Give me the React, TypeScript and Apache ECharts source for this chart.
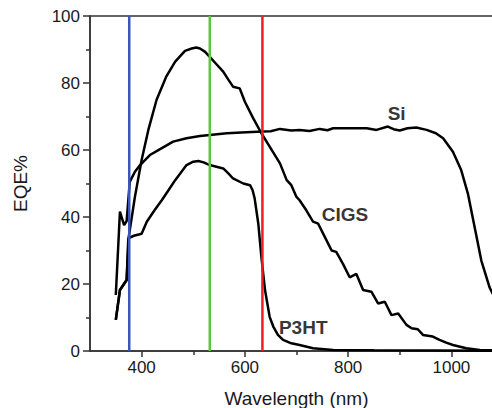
import React, { useEffect, useRef } from "react";
import * as echarts from "echarts";

const xTickValues = [400, 600, 800, 1000];
const xMinorTickValues = [500, 700, 900];
const yTickInterval = 20;

const siData: [number, number][] = [
  [350, 16.7], [358, 41.6], [366, 37.6], [371, 38.8], [377, 50.5], [387, 53.5], [397, 55.5],
  [416, 58.5], [435, 60.2], [461, 62.5], [487, 63.5], [513, 64.2], [532, 64.5], [565, 65],
  [603, 65.3], [634, 65.5], [650, 65.6], [668, 66.3], [690, 65.8], [706, 66], [725, 65.7],
  [745, 66.3], [760, 65.9], [771, 66.5], [803, 66.5], [836, 66.5], [855, 66], [877, 67],
  [888, 66.2], [900, 65.8], [915, 66.5], [932, 66.7], [952, 66], [970, 65], [984, 63.5],
  [1003, 59.5], [1019, 54], [1032, 47], [1045, 37], [1058, 27], [1074, 19], [1090, 14], [1100, 11],
];

const cigsData: [number, number][] = [
  [350, 9.3], [358, 18.2], [371, 21.2], [374, 33], [380, 39], [387, 46], [400, 57], [413, 66],
  [429, 75], [448, 82], [465, 86.4], [484, 89.6], [497, 90.3], [506, 90.6], [513, 90.3],
  [523, 89.3], [532, 87.8], [545, 85.6], [558, 83.4], [568, 81], [577, 78.9], [590, 78.4],
  [600, 74.4], [616, 69.5], [632, 65], [648, 61], [668, 56], [681, 51], [690, 49.5], [700, 46],
  [706, 45], [719, 42], [732, 38.6], [742, 38], [755, 34], [768, 30], [777, 29.6], [790, 26],
  [803, 22], [816, 23], [829, 18.2], [845, 17.7], [858, 14.2], [871, 14.7], [884, 10.7],
  [897, 11.2], [913, 7.8], [923, 6.8], [935, 6.5], [945, 4.8], [964, 4.3], [977, 3.3],
  [990, 2.5], [1003, 1.8], [1029, 0.8], [1055, 0.3], [1100, 0.2],
];

const p3htData: [number, number][] = [
  [350, 9.3], [358, 18.2], [371, 21.2], [375, 33.7], [385, 34.4], [400, 35], [410, 38.6],
  [425, 42], [439, 45], [452, 48], [465, 51], [487, 55.5], [500, 56.5], [510, 56.7],
  [520, 56.3], [532, 55.5], [545, 55], [558, 54.5], [568, 53], [577, 51.5], [597, 50],
  [610, 49.5], [615, 48], [619, 45.5], [626, 38], [632, 28], [639, 18.2], [648, 10.2],
  [655, 7.3], [664, 4.8], [674, 3.3], [690, 2.3], [706, 1.8], [732, 0.8], [771, 0.3],
  [850, 0.2], [1100, 0.1],
];

const laserWavelengths = [376, 532, 634];
const laserColors = ["#3c55bd", "#5cc63c", "#e8202a"];

const curveLabels = [
  { name: "Si", value: [894, 71] },
  { name: "CIGS", value: [794, 40.6] },
  { name: "P3HT", value: [713, 7.0] },
];

const FONT = "'Liberation Sans', Arial, Helvetica, sans-serif";
const AXIS_COLOR = "#333";
const TEXT_COLOR = "#1a1a1a";

export default function App() {
  const ref = useRef<HTMLDivElement>(null);
  useEffect(() => {
    document.body.style.margin = "0";
    const chart = echarts.init(ref.current!, null, { renderer: "svg" });
    const curve = (name: string, data: [number, number][]) => ({
      type: "line",
      name,
      data,
      showSymbol: false,
      symbol: "none",
      smooth: false,
      lineStyle: { color: "#000", width: 2.5 },
      z: 2,
    });
    chart.setOption({
      animation: false,
      backgroundColor: "#fff",
      textStyle: { fontFamily: FONT },
      grid: {
        left: 90,
        top: 16,
        width: 413,
        height: 335,
        outerBoundsMode: "none",
        containLabel: false,
        show: true,
        borderColor: AXIS_COLOR,
        borderWidth: 1.5,
        backgroundColor: "transparent",
      },
      xAxis: [
        {
          type: "value",
          min: 300,
          max: 1100,
          interval: 100,
          position: "bottom",
          axisLine: { show: true, onZero: false, lineStyle: { color: AXIS_COLOR, width: 1.5 } },
          axisTick: {
            show: true,
            length: 6,
            customValues: xTickValues,
            lineStyle: { color: AXIS_COLOR, width: 1.5 },
          },
          axisLabel: {
            customValues: xTickValues,
            formatter: (v: number) => String(v),
            fontSize: 17,
            color: TEXT_COLOR,
            margin: 8,
            fontFamily: FONT,
          },
          splitLine: { show: false },
          name: "Wavelength (nm)",
          nameLocation: "middle",
          nameGap: 38,
          nameTextStyle: { fontSize: 19, color: TEXT_COLOR, fontFamily: FONT },
        },
        {
          type: "value",
          min: 300,
          max: 1100,
          interval: 100,
          position: "bottom",
          axisLine: { show: false, onZero: false },
          axisTick: {
            show: true,
            length: 4,
            customValues: xMinorTickValues,
            lineStyle: { color: AXIS_COLOR, width: 1.5 },
          },
          axisLabel: { show: false },
          splitLine: { show: false },
        },
      ],
      yAxis: {
        type: "value",
        min: 0,
        max: 100,
        interval: yTickInterval,
        axisLine: { show: true, onZero: false, lineStyle: { color: AXIS_COLOR, width: 1.5 } },
        axisTick: { show: true, length: 7, lineStyle: { color: AXIS_COLOR, width: 1.5 } },
        minorTick: { show: true, splitNumber: 2, length: 4, lineStyle: { color: AXIS_COLOR, width: 1.5 } },
        axisLabel: { fontSize: 17, color: TEXT_COLOR, margin: 10, fontFamily: FONT },
        splitLine: { show: false },
        minorSplitLine: { show: false },
        name: "EQE%",
        nameLocation: "middle",
        nameGap: 60,
        nameTextStyle: { fontSize: 19, color: TEXT_COLOR, fontFamily: FONT },
      },
      series: [
        curve("Si", siData),
        curve("CIGS", cigsData),
        curve("P3HT", p3htData),
        ...laserWavelengths.map((w, i) => ({
          type: "line",
          name: "laser" + w,
          data: [[w, 0], [w, 100]],
          showSymbol: false,
          symbol: "none",
          lineStyle: { color: laserColors[i], width: 2.5 },
          z: 3,
        })),
        {
          type: "scatter",
          data: curveLabels,
          symbolSize: 0,
          label: {
            show: true,
            position: "inside",
            formatter: "{b}",
            fontSize: 19,
            fontWeight: "bold",
            color: "#000",
            fontFamily: FONT,
          },
          z: 4,
        },
      ],
    });
    return () => chart.dispose();
  }, []);
  return <div ref={ref} style={{ width: 492, height: 408 }} />;
}
